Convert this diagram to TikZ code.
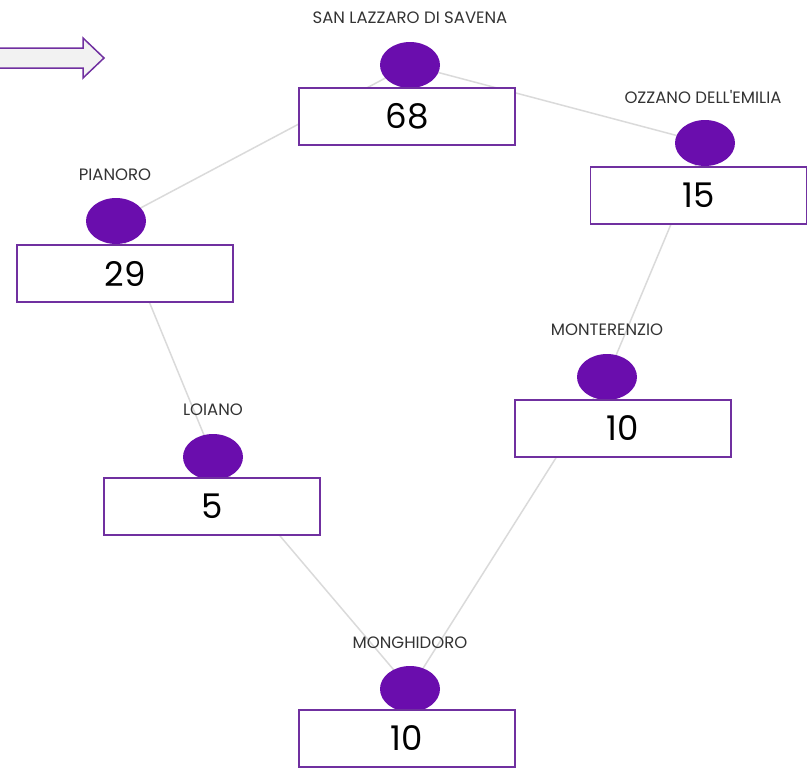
\documentclass[tikz,border=0pt]{standalone}
\usepackage{fontspec}
\setmainfont{Poppins}
\usetikzlibrary{shapes.geometric}
\pgfdeclarelayer{background}
\pgfsetlayers{background,main}
\definecolor{dot}{HTML}{6A0DAD}
\definecolor{frame}{HTML}{7030A0}
\definecolor{edgec}{HTML}{DADADA}
\definecolor{labc}{HTML}{333333}
\definecolor{arrowfill}{HTML}{F2F2F2}
\tikzset{
  dotnode/.style={ellipse, fill=dot, draw=none, minimum width=60pt, minimum height=46pt, inner sep=0pt},
  valbox/.style={rectangle, draw=frame, line width=1.6pt, fill=white, minimum width=216pt, minimum height=57pt, inner sep=0pt, font=\fontsize{34}{34}\selectfont},
  townlab/.style={text=labc, font=\fontsize{16.5}{16.5}\selectfont, inner sep=0pt},
  link/.style={draw=edgec, line width=1.5pt}
}
\begin{document}
\begin{tikzpicture}[x=1pt,y=-1pt]
\useasboundingbox (0,0) rectangle (807,774);
% dots
\node[dotnode] (dSL) at (410,65) {};
\node[dotnode] (dOZ) at (705,143) {};
\node[dotnode] (dPI) at (116,221) {};
\node[dotnode] (dLO) at (213,457) {};
\node[dotnode] (dMT) at (607,377) {};
\node[dotnode] (dMG) at (410,689) {};
% edges
\begin{pgfonlayer}{background}
\draw[link] (dSL.center) -- (dOZ.center);
\draw[link] (dSL.center) -- (dPI.center);
\draw[link] (dPI.center) -- (dLO.center);
\draw[link] (dLO.center) -- (dMG.center);
\draw[link] (dMT.center) -- (dMG.center);
\draw[link] (dOZ.center) -- (dMT.center);
\end{pgfonlayer}
% boxes
\node[valbox] (bSL) at (407,116.5) {68};
\node[valbox] (bOZ) at (698.5,195.5) {15};
\node[valbox] (bPI) at (125,273.5) {29};
\node[valbox] (bLO) at (212,506.5) {5};
\node[valbox] (bMT) at (623,428.5) {10};
\node[valbox] (bMG) at (407,738.5) {10};
% labels
\node[townlab] (lSL) at (410,18) {SAN LAZZARO DI SAVENA};
\node[townlab] (lOZ) at (703,97) {OZZANO DELL\textquotesingle EMILIA};
\node[townlab] (lPI) at (115,175) {PIANORO};
\node[townlab] (lLO) at (213,410) {LOIANO};
\node[townlab] (lMT) at (607,330) {MONTERENZIO};
\node[townlab] (lMG) at (410,643) {MONGHIDORO};
% arrow
\draw[draw=frame, fill=arrowfill, line width=1.5pt, line join=miter]
  (-5,48) -- (83,48) -- (83,38) -- (104,58) -- (83,78) -- (83,68) -- (-5,68) -- cycle;
\end{tikzpicture}
\end{document}
